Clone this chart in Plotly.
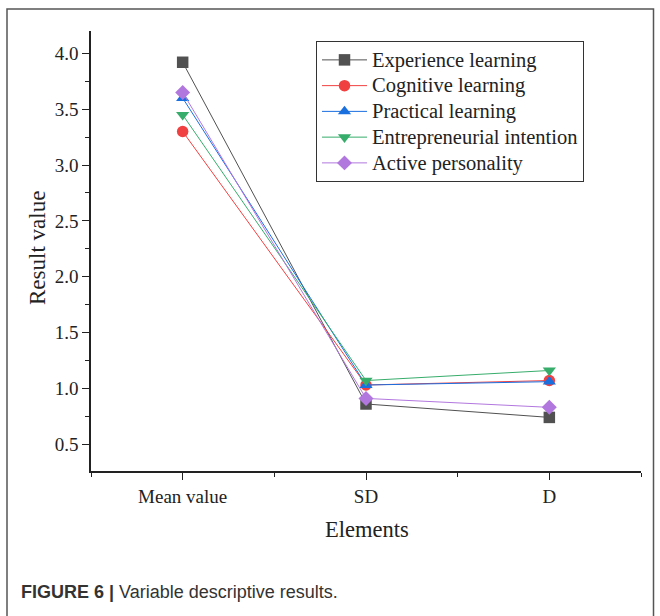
import plotly.graph_objects as go

# Descriptive statistics per variable
elements = ["Mean value", "SD", "D"]
experience_learning = [3.92, 0.86, 0.74]
cognitive_learning = [3.30, 1.03, 1.07]
practical_learning = [3.60, 1.03, 1.06]
entrepreneurial_intention = [3.45, 1.07, 1.16]
active_personality = [3.65, 0.91, 0.83]

series = [
    ("Experience learning", experience_learning, "#515151", "square"),
    ("Cognitive learning", cognitive_learning, "#F14040", "circle"),
    ("Practical learning", practical_learning, "#1A6FDF", "triangle-up"),
    ("Entrepreneurial intention", entrepreneurial_intention, "#37AD6B", "triangle-down"),
    ("Active personality", active_personality, "#B177DE", "diamond"),
]

W, H = 660, 616
positions = list(range(1, len(elements) + 1))

fig = go.Figure()
for name, vals, color, symbol in series:
    fig.add_trace(go.Scatter(
        x=positions, y=vals, mode="lines+markers",
        # legend rows stay compact while the label glyphs are set larger
        name=f"<span style='font-size:20.5px'>{name}</span>",
        line=dict(color=color, width=1),
        marker=dict(symbol=symbol, size=11.5, color=color),
    ))

serif = "Liberation Serif, Times New Roman, serif"
x_dom = [91 / W, 641 / W]
y_dom = [1 - 471 / H, 1 - 31 / H]
xr = [0.5, len(elements) + 0.5]
yr = [0.26, 4.2]
ink = "#222222"

fig.update_layout(
    width=W, height=H,
    margin=dict(l=0, r=0, t=0, b=0),
    paper_bgcolor="white", plot_bgcolor="white",
    showlegend=True,
    legend=dict(
        x=316 / W, y=1 - 41 / H, xanchor="left", yanchor="top",
        bgcolor="white", bordercolor="#333333", borderwidth=1,
        font=dict(family=serif, size=17.5, color=ink),
        itemwidth=45, tracegroupgap=0,
    ),
    xaxis=dict(
        domain=x_dom, range=xr, tickmode="array", tickvals=positions,
        ticktext=elements, ticks="outside", ticklen=7, tickwidth=1.2,
        tickcolor=ink, showline=True, linecolor=ink, linewidth=1.5,
        showgrid=False, zeroline=False,
        tickfont=dict(family=serif, size=19, color=ink),
        minor=dict(dtick=0.5, tick0=0.5, ticks="outside", ticklen=4,
                   tickcolor=ink, showgrid=False),
    ),
    yaxis=dict(
        domain=y_dom, range=yr, dtick=0.5, tick0=0, tickformat=".1f",
        ticks="outside", ticklen=7, tickwidth=1.2, tickcolor=ink,
        showline=True, linecolor=ink, linewidth=1.5,
        showgrid=False, zeroline=False,
        tickfont=dict(family=serif, size=19, color=ink),
        minor=dict(dtick=0.25, tick0=0, ticks="outside", ticklen=4,
                   tickcolor=ink, showgrid=False),
    ),
    xaxis2=dict(
        domain=x_dom, range=xr, overlaying="x", side="top", anchor="y",
        tickmode="array", tickvals=positions, ticks="inside", ticklen=7,
        tickwidth=1.2, tickcolor=ink, showticklabels=False,
        showline=True, linecolor=ink, linewidth=1.5,
        showgrid=False, zeroline=False,
        minor=dict(dtick=0.5, tick0=0.5, ticks="inside", ticklen=4,
                   tickcolor=ink, showgrid=False),
    ),
    yaxis2=dict(
        domain=y_dom, range=yr, overlaying="y", side="right", anchor="x",
        dtick=0.5, tick0=0, ticks="inside", ticklen=7, tickwidth=1.2,
        tickcolor=ink, showticklabels=False,
        showline=True, linecolor=ink, linewidth=1.5,
        showgrid=False, zeroline=False,
        minor=dict(dtick=0.25, tick0=0, ticks="inside", ticklen=4,
                   tickcolor=ink, showgrid=False),
    ),
    annotations=[
        dict(text="Result value", x=37 / W, y=1 - 248 / H, xref="paper", yref="paper",
             textangle=-90, showarrow=False, xanchor="center", yanchor="middle",
             font=dict(family=serif, size=23, color=ink)),
        dict(text="Elements", x=367 / W, y=1 - 529 / H, xref="paper", yref="paper",
             showarrow=False, xanchor="center", yanchor="middle",
             font=dict(family=serif, size=22.5, color=ink)),
        dict(text="<b>FIGURE 6</b> <b>|</b> Variable descriptive results.",
             x=19 / W, y=1 - 592 / H, xref="paper", yref="paper",
             showarrow=False, xanchor="left", yanchor="middle",
             font=dict(family="Liberation Sans, Arial, sans-serif", size=18, color="#333333")),
    ],
    shapes=[
        dict(type="rect", xref="paper", yref="paper",
             x0=7 / W, x1=653.5 / W, y0=-0.05, y1=1 - 9 / H,
             line=dict(color="#555555", width=1.5), fillcolor="rgba(0,0,0,0)"),
    ],
)

fig.write_html("out.html")
